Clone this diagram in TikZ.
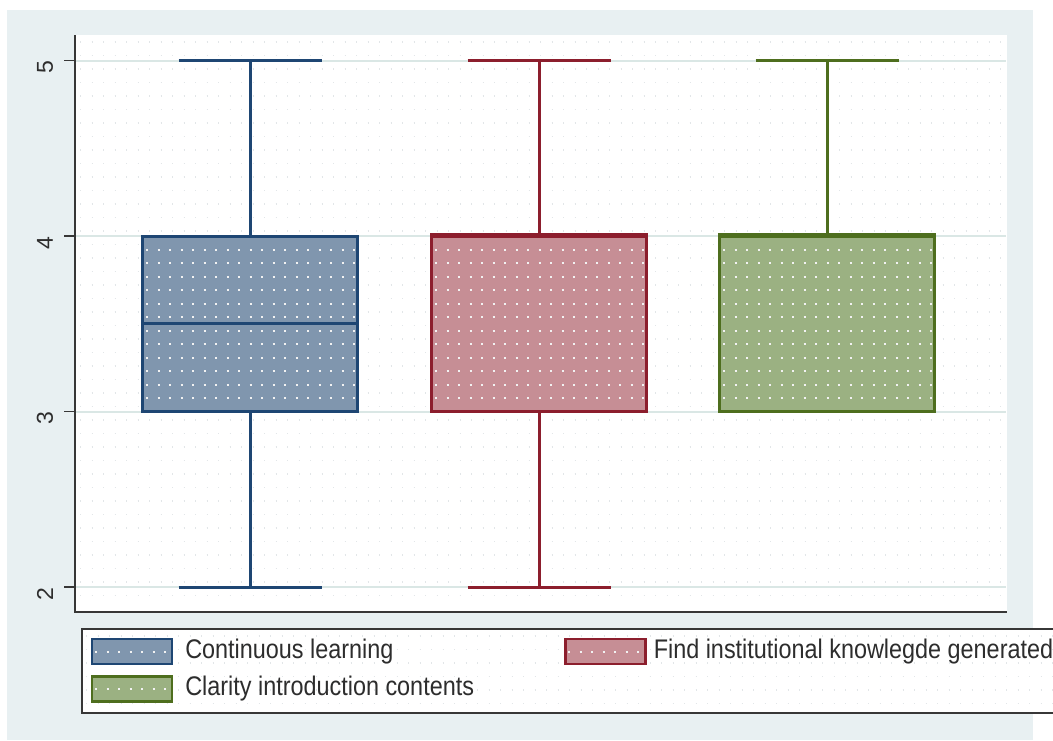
\documentclass[tikz,border=0pt]{standalone}
\usepackage{fontspec}
\setmainfont{Liberation Sans}
\usetikzlibrary{positioning}

\definecolor{outerbg}{RGB}{232,240,242}
\definecolor{gridline}{RGB}{218,231,229}
\definecolor{faintdot}{RGB}{226,230,232}
\definecolor{axisgray}{RGB}{55,55,55}
\definecolor{textgray}{RGB}{45,45,45}
\definecolor{bluefill}{RGB}{128,150,174}
\definecolor{bluedraw}{RGB}{30,70,115}
\definecolor{redfill}{RGB}{198,142,149}
\definecolor{reddraw}{RGB}{140,30,45}
\definecolor{greenfill}{RGB}{155,177,130}
\definecolor{greendraw}{RGB}{78,110,30}

\tikzset{
  axisline/.style={line width=1.5pt, draw=axisgray},
  gridrow/.style={line width=2pt, draw=gridline},
  faintrow/.style={line width=1.3pt, draw=faintdot, dash pattern=on 1.3pt off 10.2pt},
  dotrow/.style={line width=2pt, draw=white!90!gray, dash pattern=on 2pt off 9.5pt},
  whisker/.style={line width=3pt},
  boxbody/.style={line width=3pt, inner sep=0pt, minimum width=215pt, minimum height=175.5pt},
  swatch/.style={line width=2.2pt, inner sep=0pt, minimum width=80pt, minimum height=25pt},
  ylab/.style={rotate=90, inner sep=0pt, text=textgray, font=\fontsize{23}{23}\selectfont},
  legtext/.style={inner sep=0pt, text=textgray, font=\fontsize{23.4}{24}\selectfont}
}

\begin{document}
\begin{tikzpicture}[x=1pt,y=-1pt]
  \useasboundingbox (0,0) rectangle (1053,740);
  \fill[outerbg] (7,10) rectangle (1033,740);
  \fill[white] (75,35) rectangle (1007,612);

  % faint dotted background
  \foreach \r in {0,...,41}
    \draw[faintrow] (80,{42+13.5*\r}) -- (1005,{42+13.5*\r});

  % grid, ticks and labels
  \foreach \v/\t in {60.5/5, 236/4, 411.5/3, 587/2} {
    \draw[gridrow] (76,\v) -- (1006,\v);
    \draw[axisline] (64,\v) -- (75,\v);
    \node[ylab] at (45,{\v+7}) {\t};
  }
  \draw[axisline] (75,35) -- (75,612) -- (1007,612);

  % continuous learning
  \coordinate (cl-max) at (250,60.5);
  \coordinate (cl-min) at (250,587);
  \draw[whisker, bluedraw] (cl-max) -- (cl-min);
  \draw[whisker, bluedraw] (cl-max) ++(-71.5,0) -- ++(143,0);
  \draw[whisker, bluedraw] (cl-min) ++(-71.5,0) -- ++(143,0);
  \node[boxbody, fill=bluefill] (cl-box) at (250,323.75) {};
  \foreach \k in {1,...,12}
    \draw[dotrow] (146,{236+13.5*\k}) -- (355,{236+13.5*\k});
  \node[boxbody, draw=bluedraw] at (cl-box) {};
  \draw[whisker, bluedraw] (cl-box.west) -- (cl-box.east);

  % find institutional knowledge
  \coordinate (fk-max) at (539,60.5);
  \coordinate (fk-min) at (539,587);
  \draw[whisker, reddraw] (fk-max) -- (fk-min);
  \draw[whisker, reddraw] (fk-max) ++(-71.5,0) -- ++(143,0);
  \draw[whisker, reddraw] (fk-min) ++(-71.5,0) -- ++(143,0);
  \node[boxbody, fill=redfill] (fk-box) at (539,323.75) {};
  \foreach \k in {1,...,12}
    \draw[dotrow] (435,{236+13.5*\k}) -- (644,{236+13.5*\k});
  \node[boxbody, draw=reddraw] at (fk-box) {};
  \draw[whisker, reddraw, line width=3.6pt] (fk-box.north west) -- (fk-box.north east);

  % clarity introduction
  \coordinate (ci-max) at (827,60.5);
  \node[boxbody, fill=greenfill] (ci-box) at (827,323.75) {};
  \draw[whisker, greendraw] (ci-max) -- (ci-box.north);
  \draw[whisker, greendraw] (ci-max) ++(-71.5,0) -- ++(143,0);
  \foreach \k in {1,...,12}
    \draw[dotrow] (723,{236+13.5*\k}) -- (932,{236+13.5*\k});
  \node[boxbody, draw=greendraw] at (ci-box) {};
  \draw[whisker, greendraw, line width=3.6pt] (ci-box.north west) -- (ci-box.north east);

  % legend
  \draw[axisline, fill=white] (82,629) rectangle (1062,713);
  \foreach \r in {0,...,5}
    \draw[faintrow] (86,{636+13.5*\r}) -- (1053,{636+13.5*\r});
  \node[swatch, fill=bluefill, draw=bluedraw] (sw-cl) at (132,651.5) {};
  \node[swatch, fill=greenfill, draw=greendraw] (sw-ci) at (132,689) {};
  \node[swatch, fill=redfill, draw=reddraw] (sw-fk) at (605.5,651.5) {};
  \draw[dotrow] (95,651.5) -- (170,651.5);
  \draw[dotrow] (95,689) -- (170,689);
  \draw[dotrow] (568,651.5) -- (644,651.5);
  \node[legtext, right=12pt of sw-cl] {\scalebox{1}[1.15]{Continuous learning}};
  \node[legtext, right=12pt of sw-ci] {\scalebox{1}[1.15]{Clarity introduction contents}};
  \node[legtext, right=7pt of sw-fk] {\scalebox{1}[1.15]{Find institutional knowlegde generated}};
\end{tikzpicture}
\end{document}
